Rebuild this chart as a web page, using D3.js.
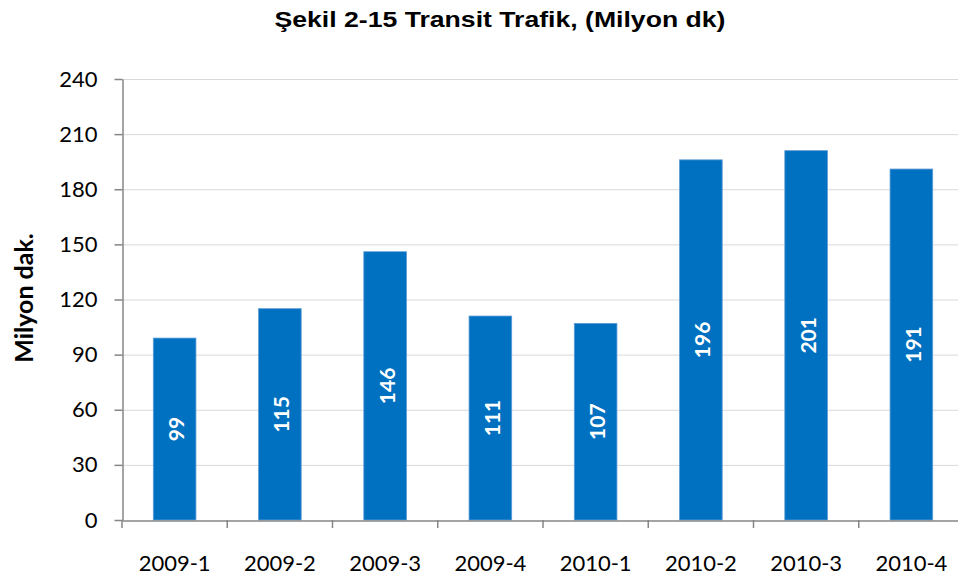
<!DOCTYPE html>
<html><head><meta charset="utf-8">
<script src="https://cdn.jsdelivr.net/npm/d3@7"></script>
<style>body{margin:0;background:#fff}svg{display:block}</style>
</head><body>
<svg id="c" width="958" height="581"></svg>
<script>
const categories = ["2009-1","2009-2","2009-3","2009-4","2010-1","2010-2","2010-3","2010-4"];
const values = [99,115,146,111,107,196,201,191];
const yTicks = [0,30,60,90,120,150,180,210,240];
const titleText = "Şekil 2-15 Transit Trafik, (Milyon dk)";
const yTitle = "Milyon dak.";

(function(){
const svg = d3.select("#c");
const mLeft = 122, mRight = 964, mTop = 79, mBottom = 520;
const x = d3.scaleBand().domain(categories).range([mLeft, mRight]).padding(0);
const y = d3.scaleLinear().domain([0,240]).range([mBottom, mTop]);
const tickFont = "Lato, 'Open Sans', sans-serif";

// gridlines
svg.append("g").selectAll("line").data(yTicks.filter(d=>d>0)).join("line")
  .attr("x1", mLeft).attr("x2", mRight)
  .attr("y1", d=>y(d)+0.5).attr("y2", d=>y(d)+0.5)
  .attr("stroke", "#d9d9d9").attr("stroke-width", 1);

// bars
const barW = x.bandwidth()*0.405;
svg.append("g").selectAll("rect").data(values).join("rect")
  .attr("x", (d,i)=>x(categories[i]) + (x.bandwidth()-barW)/2)
  .attr("y", d=>y(d))
  .attr("width", barW)
  .attr("height", d=>mBottom - y(d))
  .attr("fill", "#0070C0")
  .attr("stroke", "#5b9bd5").attr("stroke-width", 0.8);

// y axis
const yAxis = svg.append("g").attr("transform", `translate(${mLeft+0.5},0)`)
  .call(d3.axisLeft(y).tickValues(yTicks).tickSize(8).tickPadding(17).tickSizeOuter(0));
yAxis.select(".domain").attr("stroke", "#868686").attr("stroke-width", 1.5);
yAxis.selectAll(".tick line").attr("stroke", "#868686").attr("stroke-width", 1.5);
yAxis.selectAll(".tick text").attr("font-family", tickFont).attr("font-size", 22).attr("fill", "#000");

// x axis
const xAxis = svg.append("g").attr("transform", `translate(0,${mBottom+0.5})`)
  .call(d3.axisBottom(x).tickSize(0).tickPadding(35).tickSizeOuter(0));
xAxis.select(".domain").attr("stroke", "#868686").attr("stroke-width", 1.5);
xAxis.selectAll(".tick text").attr("font-family", tickFont).attr("font-size", 22).attr("fill", "#000");
// category boundary ticks
svg.append("g").selectAll("line").data(d3.range(categories.length+1)).join("line")
  .attr("x1", i=>mLeft + i*x.step()).attr("x2", i=>mLeft + i*x.step())
  .attr("y1", mBottom).attr("y2", mBottom+8)
  .attr("stroke", "#868686").attr("stroke-width", 1.5);

// value labels
svg.append("g").selectAll("text").data(values).join("text")
  .attr("transform", (d,i)=>`translate(${x(categories[i])+x.bandwidth()/2+1},${(y(d)+mBottom)/2}) rotate(-90)`)
  .attr("text-anchor", "middle").attr("dominant-baseline", "central")
  .attr("font-family", tickFont).attr("font-weight", "bold").attr("font-size", 21)
  .attr("fill", "#fff").text(d=>d);

// title
svg.append("text").attr("transform", "translate(500,27) scale(1.21,1)").attr("text-anchor", "middle")
  .attr("font-family", "'Liberation Sans', Arial, sans-serif")
  .attr("font-weight", "bold").attr("font-size", 22).attr("fill", "#000").text(titleText);

// y title
svg.append("text").attr("transform", `translate(33,298) rotate(-90)`)
  .attr("text-anchor", "middle")
  .attr("font-family", tickFont).attr("font-weight", "bold").attr("font-size", 25)
  .attr("fill", "#000").text(yTitle);
})();
</script>
</body></html>
